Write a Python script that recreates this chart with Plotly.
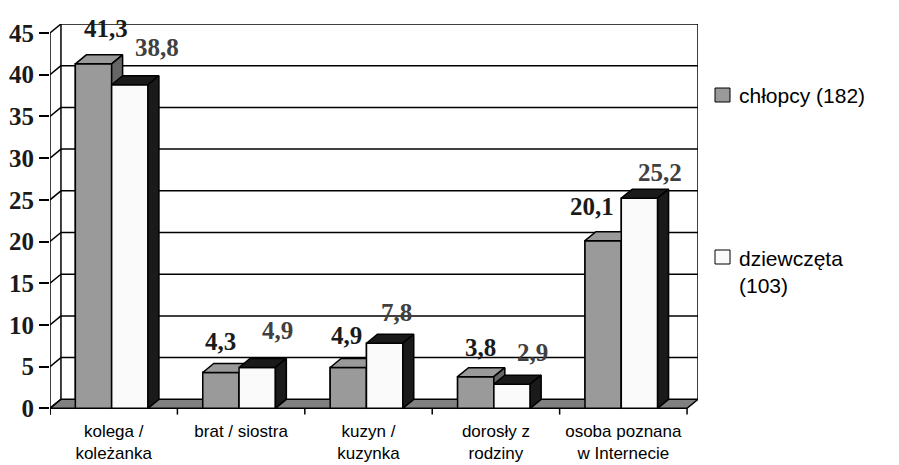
import plotly.graph_objects as go

# ---------------- data ----------------
categories = ["kolega /<br>koleżanka", "brat / siostra", "kuzyn /<br>kuzynka",
              "dorosły z<br>rodziny", "osoba poznana<br>w Internecie"]
boys = [41.3, 4.3, 4.9, 3.8, 20.1]
girls = [38.8, 4.9, 7.8, 2.9, 25.2]
series_names = ["chłopcy (182)", "dziewczęta<br>(103)"]
y_ticks = [0, 5, 10, 15, 20, 25, 30, 35, 40, 45]

# ---------------- style / geometry ----------------
OFF = 8  # page body margin compensation
W, H = 899, 465
L, R, T, B = 50 - OFF, 201 + OFF, 24 - OFF, 50 + OFF
DX = 0.086      # depth in category units
DY = 1.08       # depth in value units
BW = 0.285      # bar width (category units)
SHIFT = -0.016  # group shift
YMIN, YMAX = -0.8, 45 + DY
XMIN, XMAX = -0.5, 4.5 + DX

GRAY, GRAY_SIDE = "#9a9a9a", "#666666"
WHITE, DARK = "#fafafa", "#1a1a1a"
FLOOR = "#808080"
LW = 1.5

# label offsets (pixels) relative to bar centre / top
boy_xs = [12, 0, -2, 5, -11]
boy_ys = [35, 31, 32, 29, 34]
girl_xs = [27, 20, 12, 20, 21]
girl_ys = [37, 37, 31, 32, 26]

n = len(categories)
idx = list(range(n))

fig = go.Figure()

def poly(polys, fill, line_color="black", width=LW):
    xs, ys = [], []
    for p in polys:
        for (a, b) in p:
            xs.append(a); ys.append(b)
        xs.append(p[0][0]); ys.append(p[0][1])
        xs.append(None); ys.append(None)
    fig.add_trace(go.Scatter(x=xs, y=ys, mode="lines", fill="toself",
                             fillcolor=fill, line=dict(color=line_color, width=width),
                             hoverinfo="skip", showlegend=False))

def lines(segs, color="black", width=LW):
    xs, ys = [], []
    for (a, b), (c, d) in segs:
        xs += [a, c, None]; ys += [b, d, None]
    fig.add_trace(go.Scatter(x=xs, y=ys, mode="lines", line=dict(color=color, width=width),
                             hoverinfo="skip", showlegend=False))

# front faces as real bars (underneath)
fig.add_trace(go.Bar(x=idx, y=boys, width=BW, offset=-BW + SHIFT, marker_color=GRAY,
                     marker_line=dict(color="black", width=LW), name="chłopcy (182)",
                     showlegend=False))
fig.add_trace(go.Bar(x=idx, y=girls, width=BW, offset=SHIFT, marker_color=WHITE,
                     marker_line=dict(color="black", width=LW), name="dziewczęta (103)",
                     showlegend=False))

# back wall, grid lines, left wall connectors
x0b, x1b = XMIN + DX, 4.5 + DX
grid = [((x0b, v + DY), (x1b, v + DY)) for v in y_ticks if v > 0]
grid += [((XMIN, v), (XMIN + DX, v + DY)) for v in y_ticks]
grid += [((x0b, DY), (x0b, 45 + DY)), ((x1b, DY), (x1b, 45 + DY))]
grid += [((XMIN, YMIN), (XMIN, 45))]
lines(grid)

# floor
poly([[(XMIN, 0), (4.5, 0), (4.5 + DX, DY), (XMIN + DX, DY)]], FLOOR)

# category boundary ticks
lines([((b - 0.5, 0), (b - 0.5, -0.75)) for b in range(n + 1)])

def faces(vals, left_off):
    fronts, tops, sides = [], [], []
    for i, v in zip(idx, vals):
        a = i + SHIFT + left_off
        b = a + BW
        fronts.append([(a, 0), (b, 0), (b, v), (a, v)])
        tops.append([(a, v), (b, v), (b + DX, v + DY), (a + DX, v + DY)])
        sides.append([(b, 0), (b + DX, DY), (b + DX, v + DY), (b, v)])
    return fronts, tops, sides

gf, gt, gs = faces(boys, -BW)
wf, wt, ws = faces(girls, 0)
poly(gf, GRAY); poly(gt, GRAY); poly(gs, GRAY_SIDE)
poly(wf, WHITE); poly(wt, DARK); poly(ws, DARK)

# value labels
ann = []
def fmt(v):
    return f"{v:.1f}".replace(".", ",")
SERIF = "Liberation Serif, Times New Roman, serif"
for i in idx:
    ann.append(dict(x=i + SHIFT - BW / 2, y=boys[i], text=fmt(boys[i]), showarrow=False,
                    xshift=boy_xs[i], yshift=boy_ys[i], xanchor="center", yanchor="middle",
                    font=dict(family=SERIF, size=25, color="#1a1a1a", weight="bold")))
    ann.append(dict(x=i + SHIFT + BW / 2, y=girls[i], text=fmt(girls[i]), showarrow=False,
                    xshift=girl_xs[i], yshift=girl_ys[i], xanchor="center", yanchor="middle",
                    font=dict(family=SERIF, size=25, color="#404040", weight="bold")))

# legend (custom), positions given in reference pixels
pw, ph = W - L - R, H - T - B
def px(xp):
    return (xp - OFF - L) / pw
def py(yp):
    return (H - B - (yp - OFF)) / ph

shapes = []
leg_font = dict(family="Liberation Sans, Arial, sans-serif", size=21, color="black")
shapes.append(dict(type="rect", xref="paper", yref="paper", x0=px(715), x1=px(730),
                   y0=py(102), y1=py(88), fillcolor=GRAY, line=dict(color="black", width=1)))
shapes.append(dict(type="rect", xref="paper", yref="paper", x0=px(715), x1=px(730),
                   y0=py(264), y1=py(250), fillcolor=WHITE, line=dict(color="black", width=1)))
ann.append(dict(xref="paper", yref="paper", x=px(737), y=py(95), text=series_names[0],
                showarrow=False, xanchor="left", yanchor="middle", font=leg_font))
ann.append(dict(xref="paper", yref="paper", x=px(737), y=py(272), text=series_names[1],
                showarrow=False, xanchor="left", yanchor="middle", align="left", font=leg_font))

fig.update_layout(
    width=W, height=H, margin=dict(l=L, r=R, t=T, b=B, autoexpand=False),
    plot_bgcolor="white", paper_bgcolor="white", barmode="overlay",
    showlegend=False, annotations=ann, shapes=shapes,
    xaxis=dict(range=[XMIN, XMAX], tickvals=idx, ticktext=categories, showgrid=False,
               zeroline=False, showline=False, ticks="", automargin=False,
               tickfont=dict(family="Liberation Sans, Arial, sans-serif", size=17, color="black"),
               ticklabelstandoff=4),
    yaxis=dict(range=[YMIN, YMAX], tickvals=y_ticks, showgrid=False, zeroline=False,
               showline=False, ticks="outside", ticklen=10, tickwidth=LW, tickcolor="black",
               automargin=False,
               tickfont=dict(family=SERIF, size=25, color="#1a1a1a", weight="bold")),
)

fig.write_html("out.html")
